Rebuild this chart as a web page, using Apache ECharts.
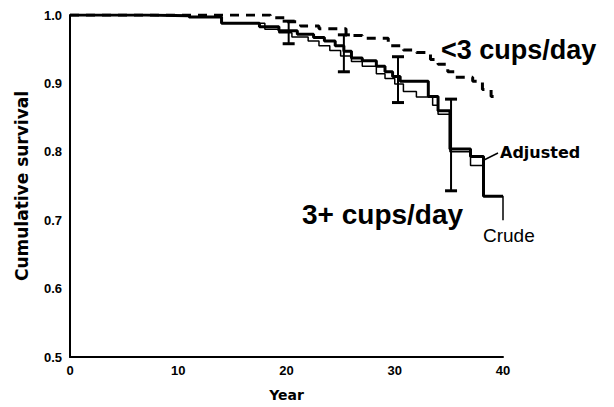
<!DOCTYPE html>
<html><head><meta charset="utf-8">
<script src="https://cdn.jsdelivr.net/npm/echarts@6/dist/echarts.min.js"></script>
<style>html,body{margin:0;padding:0;background:#fff}#c{width:614px;height:407px}</style>
</head><body><div id="c"></div>
<script>
// <3 cups/day (dashed)
const lowYears = [0, 17, 18.5, 20, 21.3, 23, 25.5, 27, 29.4, 30.8, 32, 33.3, 34, 34.9, 35.6, 37.2, 38.1, 38.9, 39.4];
const lowSurv  = [1.0, 1.0, 0.996, 0.99, 0.984, 0.98, 0.970, 0.966, 0.955, 0.949, 0.945, 0.935, 0.928, 0.917, 0.909, 0.903, 0.891, 0.881, 0.881];
// 3+ cups/day adjusted (thick)
const adjYears = [0, 7, 11, 14, 17.5, 19.3, 21, 22.5, 23.5, 24.5, 25.3, 26, 27, 28.3, 29.1, 29.8, 30.5, 33.1, 34, 35.1, 37, 38.2, 40];
const adjSurv  = [1.0, 0.999, 0.997, 0.988, 0.983, 0.977, 0.972, 0.967, 0.962, 0.955, 0.947, 0.937, 0.933, 0.925, 0.917, 0.910, 0.903, 0.881, 0.860, 0.804, 0.793, 0.735, 0.735];
// 3+ cups/day crude (thin)
const crudeYears = [0, 7, 11, 14, 18, 19.3, 20.5, 22, 23, 24, 25, 26, 27, 28.3, 29.1, 30, 30.8, 32, 33.5, 34, 35.1, 37, 38.2, 40];
const crudeSurv  = [1.0, 0.999, 0.997, 0.988, 0.979, 0.974, 0.968, 0.962, 0.955, 0.948, 0.940, 0.932, 0.925, 0.914, 0.907, 0.899, 0.888, 0.880, 0.868, 0.855, 0.800, 0.780, 0.735, 0.700];
// error bars
const ebYears = [20.2, 25.3, 30.3, 35.2];
const ebLow   = [0.958, 0.917, 0.872, 0.743];
const ebHigh  = [0.991, 0.971, 0.939, 0.877];
const xTicks = [0, 10, 20, 30, 40];
const yTicks = [0.5, 0.6, 0.7, 0.8, 0.9, 1.0];

const zip = (a, b) => a.map((v, i) => [v, b[i]]);
const chart = echarts.init(document.getElementById('c'), null, {renderer: 'svg'});
const F = 'Liberation Sans, Arial, sans-serif';
const D = 'DejaVu Sans, sans-serif';
chart.setOption({
  animation: false,
  grid: {left: 70, right: 111, top: 15, bottom: 47},
  xAxis: {type: 'value', min: 0, max: 40, interval: 10,
    axisLine: {lineStyle: {color: '#000', width: 2}}, axisTick: {show: false}, splitLine: {show: false},
    axisLabel: {color: '#000', fontFamily: F, fontWeight: 'bold', fontSize: 13, margin: 7,
      formatter: v => xTicks.includes(v) ? String(v) : ''},
    name: 'Year', nameLocation: 'middle', nameGap: 31,
    nameTextStyle: {color: '#000', fontFamily: D, fontWeight: 'bold', fontSize: 14}},
  yAxis: {type: 'value', min: 0.5, max: 1.0, interval: 0.1,
    axisLine: {show: true, lineStyle: {color: '#000', width: 2}}, axisTick: {show: false}, splitLine: {show: false},
    axisLabel: {color: '#000', fontFamily: F, fontWeight: 'bold', fontSize: 13, margin: 8,
      formatter: v => yTicks.some(t => Math.abs(t - v) < 1e-6) ? v.toFixed(1) : ''},
    name: 'Cumulative survival', nameLocation: 'middle', nameGap: 40,
    nameTextStyle: {color: '#000', fontFamily: D, fontWeight: 'bold', fontSize: 17}},
  series: [
    {type: 'line', step: 'end', data: zip(lowYears, lowSurv), symbol: 'none',
      lineStyle: {color: '#000', width: 3, type: [9, 7]}},
    {type: 'line', step: 'end', data: zip(crudeYears, crudeSurv), symbol: 'none',
      lineStyle: {color: '#000', width: 1.5}},
    {type: 'line', step: 'end', data: zip(adjYears, adjSurv), symbol: 'none',
      lineStyle: {color: '#000', width: 3}},
    {type: 'custom', data: ebYears.map((y, i) => [y, ebLow[i], ebHigh[i]]),
      renderItem: (params, api) => {
        const lo = api.coord([api.value(0), api.value(1)]);
        const hi = api.coord([api.value(0), api.value(2)]);
        const w = 6;
        const st = {stroke: '#000', lineWidth: 2};
        return {type: 'group', children: [
          {type: 'line', shape: {x1: lo[0], y1: lo[1], x2: hi[0], y2: hi[1]}, style: st},
          {type: 'line', shape: {x1: lo[0] - w, y1: lo[1], x2: lo[0] + w, y2: lo[1]}, style: {stroke: '#000', lineWidth: 3}},
          {type: 'line', shape: {x1: hi[0] - w, y1: hi[1], x2: hi[0] + w, y2: hi[1]}, style: {stroke: '#000', lineWidth: 3}}
        ]};
      }}
  ],
  graphic: [
    {type: 'text', left: 441, top: 36, style: {text: '<3 cups/day', font: 'bold 27px ' + F, fill: '#000'}},
    {type: 'text', left: 302, top: 200, style: {text: '3+ cups/day', font: 'bold 28px ' + F, fill: '#000'}},
    {type: 'text', left: 500, top: 144, style: {text: 'Adjusted', font: 'bold 16px ' + D, fill: '#000'}},
    {type: 'text', left: 483, top: 226, style: {text: 'Crude', font: '19px ' + F, fill: '#000'}},
    {type: 'line', shape: {x1: 484, y1: 160, x2: 498, y2: 153}, style: {stroke: '#000', lineWidth: 1.5}}
  ]
});
</script></body></html>
